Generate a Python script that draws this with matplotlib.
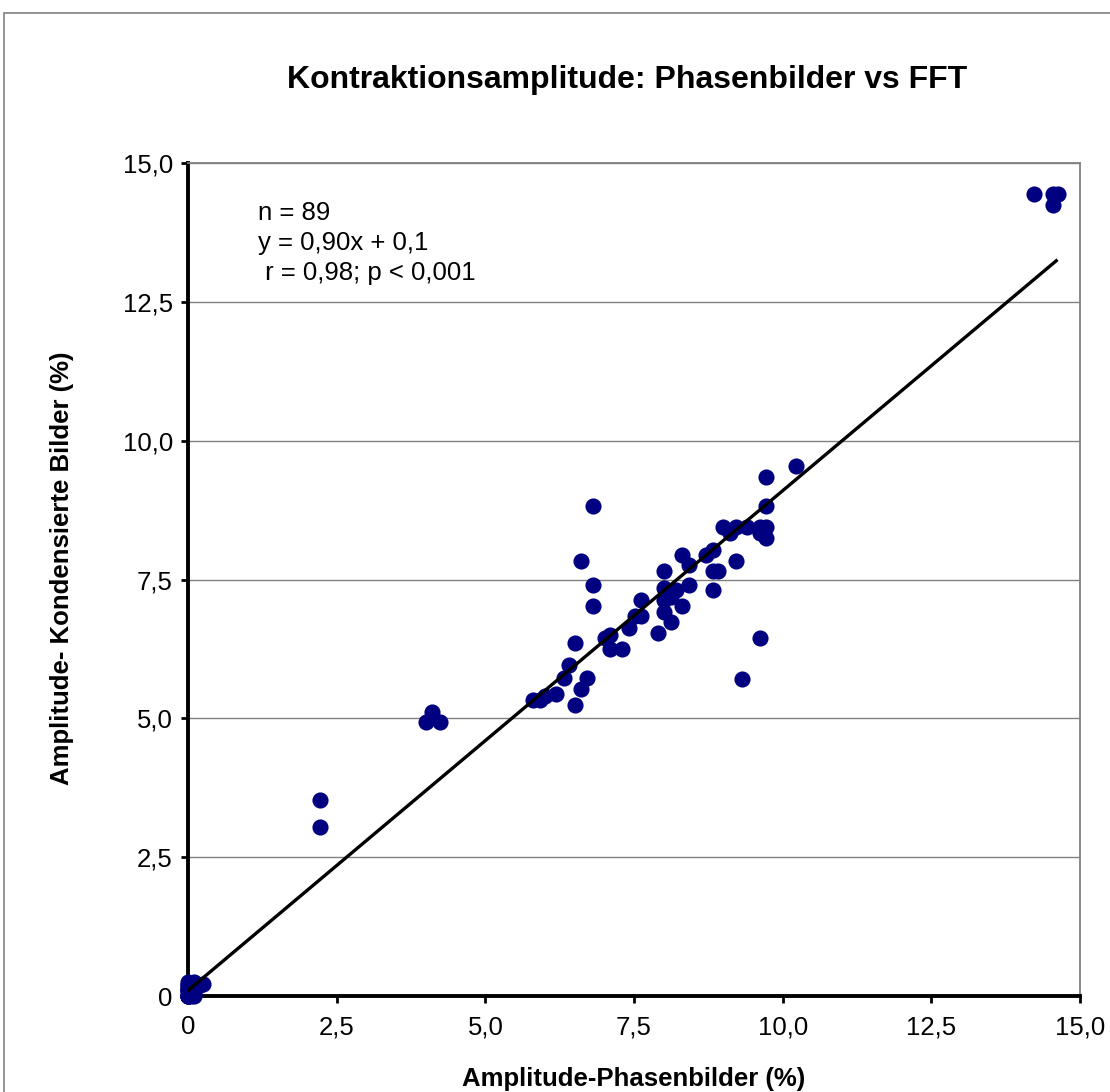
import matplotlib.pyplot as plt
import numpy as np
from matplotlib.patches import Rectangle

plt.rcParams['font.family'] = ['Liberation Sans', 'DejaVu Sans']

# Werte (Phasenbilder, Kondensierte Bilder)
x_phase = [
    # Haufen nahe Null
    0.0, 0.0, 0.0, 0.0, 0.0, 0.0, 0.0, 0.0, 0.0, 0.0,
    0.05, 0.05, 0.05, 0.05, 0.05, 0.1, 0.1, 0.1, 0.1, 0.1,
    0.0, 0.0, 0.05, 0.1, 0.1, 0.15, 0.2, 0.25, 0.0,
    # Ausreisser links
    2.22, 2.22, 4.01, 4.11, 4.23,
    # Hauptgruppe
    5.80, 5.92, 6.00, 6.19, 6.32, 6.41, 6.51, 6.51, 6.60, 6.60,
    6.71, 6.81, 6.81, 6.81, 7.01, 7.10, 7.10, 7.30, 7.42, 7.52,
    7.61, 7.61, 7.91, 8.00, 8.00, 8.00, 8.00, 8.13, 8.13, 8.21,
    8.30, 8.30, 8.43, 8.43, 8.71, 8.82, 8.82, 8.92, 8.82, 9.00,
    9.11, 9.22, 9.22, 9.40, 9.62, 9.72, 9.72, 9.62, 9.72, 9.72,
    10.22, 9.62, 9.31,
    # oben rechts
    14.22, 14.55, 14.63, 14.54,
]
y_kond = [
    0.0, 0.0, 0.0, 0.0, 0.0, 0.1, 0.1, 0.1, 0.2, 0.2,
    0.0, 0.05, 0.1, 0.15, 0.2, 0.0, 0.05, 0.1, 0.15, 0.2,
    0.05, 0.15, 0.2, 0.25, 0.1, 0.2, 0.2, 0.22, 0.25,
    3.53, 3.04, 4.94, 5.12, 4.94,
    5.33, 5.33, 5.40, 5.44, 5.72, 5.96, 6.35, 5.24, 7.84, 5.52,
    5.72, 8.82, 7.41, 7.03, 6.44, 6.50, 6.24, 6.24, 6.62, 6.84,
    6.84, 7.13, 6.54, 7.66, 7.34, 7.13, 6.92, 6.74, 7.19, 7.31,
    7.03, 7.94, 7.76, 7.41, 7.94, 8.04, 7.66, 7.66, 7.32, 8.44,
    8.34, 8.44, 7.84, 8.44, 8.44, 8.44, 8.24, 8.34, 8.82, 9.34,
    9.54, 6.44, 5.71,
    14.44, 14.44, 14.44, 14.25,
]

# Regressionsgerade laut Beschriftung
slope, intercept = 0.90, 0.1
fit_x = np.linspace(0, 14.6, 50)

ticks = [0, 2.5, 5.0, 7.5, 10.0, 12.5, 15.0]
tick_labels = ['0', '2,5', '5,0', '7,5', '10,0', '12,5', '15,0']

fig = plt.figure(figsize=(11.1, 10.92), dpi=100)
ax = fig.add_axes([0.1694, 0.0879, 0.8036, 0.7628])

ax.scatter(x_phase, y_kond, s=135, color='#000080', zorder=3, linewidths=0,
           clip_on=False)
ax.plot(fit_x, slope * fit_x + intercept, color='black', lw=2.4, zorder=4)

ax.set_xlim(0, 15)
ax.set_ylim(0, 15)
ax.set_xticks(ticks)
ax.set_xticklabels(tick_labels)
ax.set_yticks(ticks)
ax.set_yticklabels(tick_labels)
ax.tick_params(labelsize=18.5, direction='out', length=5, width=2)
ax.tick_params(axis='x', pad=9)
ax.tick_params(axis='y', pad=6)
ax.grid(axis='y', color='#808080', lw=1)
ax.set_axisbelow(True)

for side in ['left', 'bottom']:
    ax.spines[side].set_linewidth(2.8)
    ax.spines[side].set_color('black')
for side in ['top', 'right']:
    ax.spines[side].set_linewidth(1.3)
    ax.spines[side].set_color('#808080')

ax.set_xlabel('Amplitude-Phasenbilder (%)', fontsize=18.5, fontweight='bold', labelpad=20)
ax.set_ylabel('Amplitude- Kondensierte Bilder (%)', fontsize=18.5, fontweight='bold')
ax.yaxis.set_label_coords(-0.128, 0.513)
fig.text(0.565, 0.927, 'Kontraktionsamplitude: Phasenbilder vs FFT',
         ha='center', va='center', fontsize=23, fontweight='bold')

ax.text(1.18, 14.32, 'n = 89\ny = 0,90x + 0,1\n r = 0,98; p < 0,001',
        fontsize=18.5, va='top', ha='left', linespacing=1.32)

# Rahmen des Diagrammbereichs
fig.patches.append(Rectangle((4 / 1110, -0.05), 1.2, 1 - 13 / 1092 + 0.05,
                             transform=fig.transFigure, fill=False,
                             edgecolor='#808080', lw=1.2))

fig.savefig('out.png', dpi=100)
